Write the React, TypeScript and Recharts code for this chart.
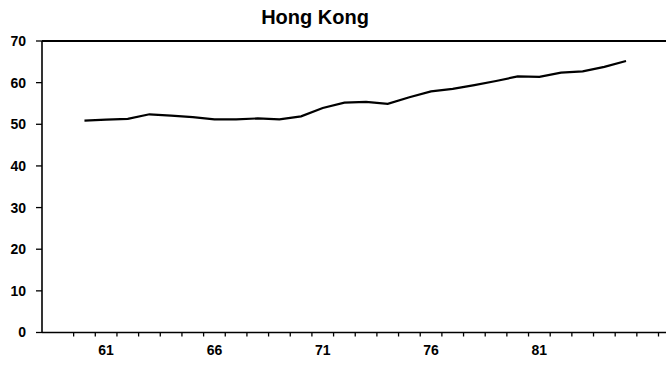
import { LineChart, Line, XAxis, YAxis, ReferenceLine } from "recharts";

const years = [60, 61, 62, 63, 64, 65, 66, 67, 68, 69, 70, 71, 72, 73, 74, 75, 76, 77, 78, 79, 80, 81, 82, 83, 84, 85];
const values = [
  50.9, 51.1, 51.3, 52.4, 52.1, 51.7, 51.2, 51.2, 51.4, 51.2, 51.9, 53.9, 55.2,
  55.4, 54.9, 56.5, 57.9, 58.5, 59.4, 60.4, 61.5, 61.4, 62.4, 62.7, 63.8, 65.2,
];
const labelYears = [61, 66, 71, 76, 81];
const yTicks = [0, 10, 20, 30, 40, 50, 60, 70];
const tickMarks = [59.5, 60.5, 61.5, 62.5, 63.5, 64.5, 65.5, 66.5, 67.5, 68.5, 69.5, 70.5, 71.5, 72.5, 73.5, 74.5, 75.5, 76.5, 77.5, 78.5, 79.5, 80.5, 81.5, 82.5, 83.5, 84.5, 85.5, 86.5, 87.5];

const data = years.map((y, i) => ({ year: y, value: values[i] }));
const xTicks = [...tickMarks, ...labelYears].sort((a, b) => a - b);

const font = "'Liberation Sans', Arial, sans-serif";

// labels on whole years, small marks on the half-year boundaries
function XTick(props: any) {
  const { x, y, payload } = props;
  if (Number.isInteger(payload.value)) {
    return (
      <text x={x} y={y + 22} textAnchor="middle" fontSize={14} fontWeight="bold" fontFamily={font} fill="#000">
        {payload.value}
      </text>
    );
  }
  return <line x1={x} x2={x} y1={y} y2={y + 4} stroke="#000" strokeWidth={1.3} />;
}

export default function App() {
  return (
    <div style={{ position: "fixed", left: 0, top: 0, width: 666, height: 365, overflow: "hidden", background: "#fff" }}>
      <div
        style={{
          position: "absolute",
          left: 0,
          width: 630,
          top: 6,
          textAlign: "center",
          fontFamily: font,
          fontWeight: "bold",
          fontSize: 20,
        }}
      >
        Hong Kong
      </div>
      <LineChart width={691} height={365} data={data} margin={{ top: 41, right: 0, bottom: 0, left: 0 }}>
        <XAxis
          dataKey="year"
          type="number"
          domain={[58.04, 88]}
          allowDataOverflow
          ticks={xTicks}
          interval={0}
          tickSize={0}
          tickMargin={0}
          tickLine={false}
          tick={<XTick />}
          height={32.5}
          axisLine={{ stroke: "#000", strokeWidth: 1.6 }}
        />
        <YAxis
          type="number"
          domain={[0, 70]}
          ticks={yTicks}
          interval={0}
          width={42}
          tickSize={6}
          tickMargin={10}
          tick={{ fill: "#000", fontSize: 14, fontWeight: "bold", fontFamily: font }}
          tickLine={{ stroke: "#000", strokeWidth: 1.3 }}
          axisLine={{ stroke: "#000", strokeWidth: 1.6 }}
        />
        <ReferenceLine y={70} stroke="#000" strokeWidth={2} />
        <Line
          type="linear"
          dataKey="value"
          stroke="#000"
          strokeWidth={2.2}
          dot={false}
          isAnimationActive={false}
        />
      </LineChart>
    </div>
  );
}
